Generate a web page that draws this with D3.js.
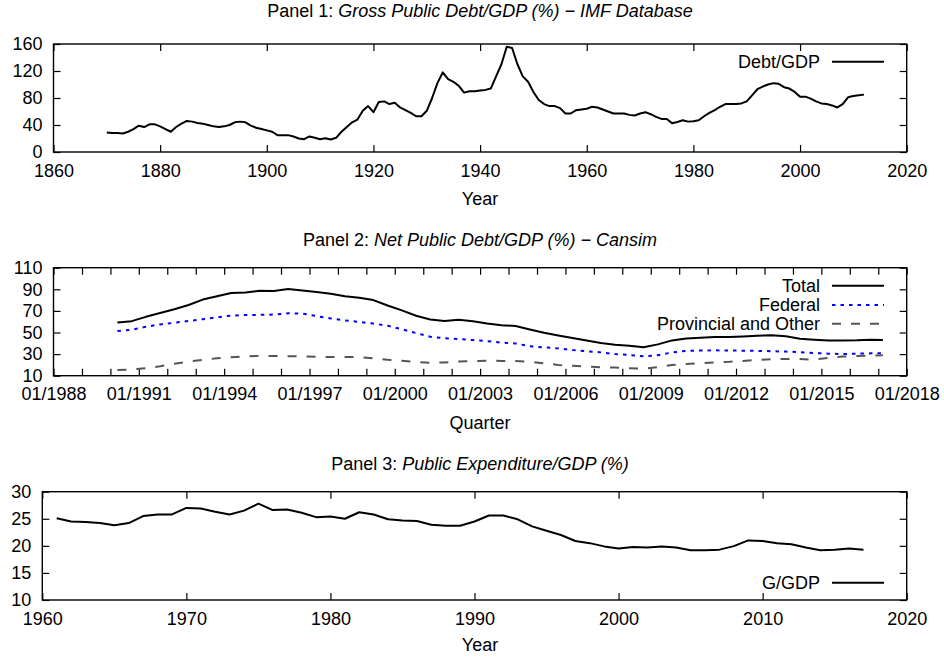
<!DOCTYPE html>
<html><head><meta charset="utf-8">
<script src="https://cdn.jsdelivr.net/npm/d3@7"></script>
<style>
html,body{margin:0;padding:0;background:#fff;}
svg{display:block;font-family:"Liberation Sans",Arial,sans-serif;}
</style></head>
<body>
<svg id="chart" width="944" height="658"></svg>
<script>
// ---------- Panel 1 data: Gross Public Debt/GDP (%) ----------
const debtYears = d3.range(1870, 2013);
const debtValues = [
 29,28,28,27.5,30,34,39,37,41,41,            // 1870-1879
 38,34,30,37,42,46,45,43,42,40,              // 1880-1889
 38,37,38,40,44,45,44,39,36,34,              // 1890-1899
 32,30,25,25,25,23,20,19,23,21,              // 1900-1909
 19,20.5,18.6,21,30,37,44,48,61,68,          // 1910-1919
 59,74,75,71,73,66,62,58,53,53,              // 1920-1929
 61,80,102,118,108,104,98,88,90,90,          // 1930-1939
 91,92,94,112,130,156,154,130,112,104,       // 1940-1949
 89,77,71,68,68,65,57,57,62,63,              // 1950-1959
 64,67,66,63,60,57,57,57,55,54,              // 1960-1969
 57,59,56,52,49,49,42.5,44.5,47,45,          // 1970-1979
 45.5,47,53,58,62,67,71,71,71,72,            // 1980-1989
 75,84,93,97,100,102,101,96,94,89,           // 1990-1999
 82,82,79,75,72,71,69,66,71,81,              // 2000-2009
 83,84,85                                     // 2010-2012
];
const p1XTicks = [1860,1880,1900,1920,1940,1960,1980,2000,2020];
const p1YTicks = [0,40,80,120,160];

// ---------- Panel 2 data: Net Public Debt/GDP (%) ----------
const quarters = [
 "1990-04","1990-10","1991-04","1991-10","1992-04","1992-10","1993-04","1993-10",
 "1994-04","1994-10","1995-04","1995-10","1996-04","1996-10","1997-04","1997-10",
 "1998-04","1998-10","1999-04","1999-10","2000-04","2000-10","2001-04","2001-10",
 "2002-04","2002-10","2003-04","2003-10","2004-04","2004-10","2005-04","2005-10",
 "2006-04","2006-10","2007-04","2007-10","2008-04","2008-10","2009-04","2009-10",
 "2010-04","2010-10","2011-04","2011-10","2012-04","2012-10","2013-04","2013-10",
 "2014-04","2014-10","2015-04","2015-10","2016-04","2016-10","2017-03"
];
const totalValues = [
 59.2,60.5,64.5,68,71.5,75.5,80.5,83.5,
 86.5,87,88.7,88.5,90.3,89,87.5,85.8,
 83.5,82.2,80,75,70.5,65.5,62,60.6,
 61.8,60.5,58.3,56.7,56,52.8,49.8,47.3,
 45,42.6,40.3,38.6,37.7,36.3,39,42.7,
 44.4,45.2,45.8,45.8,46.4,47,47.4,46.5,
 44.2,43.4,42.5,42.6,42.8,43.3,43
];
const federalValues = [
 51.3,52.5,55.3,57.5,59,60.7,62.3,64,
 65.7,66.2,66.3,66.6,67.8,67.6,65.2,63,
 61.2,59.8,58.3,56.3,53,49.5,46,44.7,
 44,43,42,40.6,39.8,37.3,36.2,35.3,
 33.7,32.7,31.6,30,29.2,28,29,31.5,
 33,33.3,33.5,33.3,33.2,33,32.7,32.3,
 31.8,31,30.4,30.1,30.4,30.7,30.7
];
const provincialValues = [
 15.3,15.7,17,18.7,21,23,24.7,26.1,
 27.1,27.8,28.4,28.3,28.1,27.8,27.5,27.3,
 27.3,27.3,26.2,24.8,23.8,22.7,22,22.3,
 23.1,23.6,23.9,23.7,23.6,22.8,21.5,20,
 19.2,18.4,17.9,17.5,17,16.5,17.8,20,
 20.9,21.5,22.2,22.8,23.7,24.6,25.3,25.4,
 25.4,24.9,26.5,27.7,28.3,28.4,29
];
const p2YTicks = [10,30,50,70,90,110];
const p2Series = ["Total","Federal","Provincial and Other"];

// ---------- Panel 3 data: Public Expenditure/GDP (%) ----------
const expYears = d3.range(1961, 2018);
const expValues = [
 25.1,24.5,24.4,24.2,23.8,24.2,25.5,25.8,25.8,         // 1961-1969
 27,26.9,26.3,25.8,26.5,27.8,26.6,26.7,26.1,25.3,      // 1970-1979
 25.4,25,26.2,25.8,24.9,24.7,24.6,23.9,23.7,23.7,      // 1980-1989
 24.5,25.6,25.6,24.9,23.6,22.8,22,20.9,20.5,19.9,      // 1990-1999
 19.5,19.8,19.7,19.9,19.7,19.2,19.2,19.3,19.95,21,     // 2000-2009
 20.9,20.5,20.3,19.7,19.2,19.3,19.5,19.3               // 2010-2017
];
const p3XTicks = [1960,1970,1980,1990,2000,2010,2020];
const p3YTicks = [10,15,20,25,30];

// ---------- drawing ----------
const svg = d3.select("#chart");
const FONT = 18, TICK = 7;

function frame(g, x0, x1, y0, y1) {
  g.append("rect").attr("x", x0).attr("y", y0).attr("width", x1 - x0).attr("height", y1 - y0)
    .attr("fill", "none").attr("stroke", "#000").attr("stroke-width", 1.4);
}
function title(label, italic, cx, y) {
  const t = svg.append("text").attr("x", cx).attr("y", y).attr("text-anchor", "middle")
    .attr("font-size", 18).attr("fill", "#000");
  t.append("tspan").text(label);
  t.append("tspan").attr("font-style", "italic").text(italic);
}
function axes(x, y, xTicks, yTicks, xFmt, yFmt) {
  const [x0, x1] = x.range(), [y1, y0] = y.range();
  const g = svg.append("g");
  const bx = d3.axisBottom(x).tickValues(xTicks).tickSizeInner(-TICK).tickSizeOuter(0)
    .tickPadding(12).tickFormat(xFmt);
  const gb = g.append("g").attr("transform", `translate(0,${y1})`).call(bx);
  const tx = d3.axisTop(x).tickValues(xTicks).tickSizeInner(-TICK).tickSizeOuter(0).tickFormat("");
  const gt = g.append("g").attr("transform", `translate(0,${y0})`).call(tx);
  const ly = d3.axisLeft(y).tickValues(yTicks).tickSizeInner(-TICK).tickSizeOuter(0)
    .tickPadding(11).tickFormat(yFmt);
  const gl = g.append("g").attr("transform", `translate(${x0},0)`).call(ly);
  const ry = d3.axisRight(y).tickValues(yTicks).tickSizeInner(-TICK).tickSizeOuter(0).tickFormat("");
  const gr = g.append("g").attr("transform", `translate(${x1},0)`).call(ry);
  [gb, gt, gl, gr].forEach(a => {
    a.select(".domain").remove();
    a.selectAll("line").attr("stroke", "#000").attr("stroke-width", 1.2);
    a.selectAll("text").attr("font-size", FONT).attr("font-family", "Liberation Sans, Arial, sans-serif").attr("fill", "#000");
  });
  frame(g, x0, x1, y0, y1);
}
function legendEntry(text, y, style) {
  svg.append("text").attr("x", 820).attr("y", y).attr("text-anchor", "end")
    .attr("dominant-baseline", "central").attr("font-size", FONT).attr("fill", "#000").text(text);
  const l = svg.append("line").attr("x1", 832).attr("x2", 884).attr("y1", y).attr("y2", y)
    .attr("stroke", style.color).attr("stroke-width", 2);
  if (style.dash) l.attr("stroke-dasharray", style.dash);
}

// ----- Panel 1 -----
{
  const x = d3.scaleLinear().domain([1860, 2020]).range([53.5, 906.7]);
  const y = d3.scaleLinear().domain([0, 160]).range([152, 44]);
  title("Panel 1: ", "Gross Public Debt/GDP (%) \u2212 IMF Database", 480, 17);
  axes(x, y, p1XTicks, p1YTicks, d3.format("d"), d3.format("d"));
  svg.append("path").datum(debtYears.map((yr, i) => [yr, debtValues[i]]))
    .attr("fill", "none").attr("stroke", "#000").attr("stroke-width", 2).attr("stroke-linejoin", "round")
    .attr("d", d3.line().x(d => x(d[0])).y(d => y(d[1])));
  legendEntry("Debt/GDP", 61.7, {color: "#000"});
  svg.append("text").attr("x", 480).attr("y", 205).attr("text-anchor", "middle").attr("font-size", FONT).text("Year");
}

// ----- Panel 2 -----
{
  const parse = d3.timeParse("%Y-%m");
  const dates = quarters.map(parse);
  const x = d3.scaleTime().domain([new Date(1988, 0, 1), new Date(2018, 0, 1)]).range([53.5, 906.7]);
  const y = d3.scaleLinear().domain([10, 110]).range([375.7, 267.7]);
  title("Panel 2: ", "Net Public Debt/GDP (%) \u2212 Cansim", 480, 245.5);
  const yearTicks = d3.timeYear.range(new Date(1988, 0, 1), new Date(2018, 0, 2));
  const fmt = d3.timeFormat("%m/%Y");
  axes(x, y, yearTicks, p2YTicks, d => ((d.getFullYear() - 1988) % 3 === 0 ? fmt(d) : ""), d3.format("d"));
  const styles = [
    {values: totalValues, color: "#000", dash: null},
    {values: federalValues, color: "#0000ff", dash: "3.5,5"},
    {values: provincialValues, color: "#555555", dash: "9,10"}
  ];
  styles.forEach(s => {
    const p = svg.append("path").datum(dates.map((d, i) => [d, s.values[i]]))
      .attr("fill", "none").attr("stroke", s.color).attr("stroke-width", 2).attr("stroke-linejoin", "round")
      .attr("d", d3.line().x(d => x(d[0])).y(d => y(d[1])));
    if (s.dash) p.attr("stroke-dasharray", s.dash);
  });
  legendEntry(p2Series[0], 285.7, styles[0]);
  legendEntry(p2Series[1], 305, styles[1]);
  legendEntry(p2Series[2], 323.7, styles[2]);
  svg.append("text").attr("x", 480).attr("y", 429).attr("text-anchor", "middle").attr("font-size", FONT).text("Quarter");
}

// ----- Panel 3 -----
{
  const x = d3.scaleLinear().domain([1960, 2020]).range([42.3, 906.7]);
  const y = d3.scaleLinear().domain([10, 30]).range([600, 491.7]);
  title("Panel 3: ", "Public Expenditure/GDP (%)", 480, 470);
  axes(x, y, p3XTicks, p3YTicks, d3.format("d"), d3.format("d"));
  svg.append("path").datum(expYears.map((yr, i) => [yr, expValues[i]]))
    .attr("fill", "none").attr("stroke", "#000").attr("stroke-width", 2).attr("stroke-linejoin", "round")
    .attr("d", d3.line().x(d => x(d[0])).y(d => y(d[1])));
  legendEntry("G/GDP", 582.7, {color: "#000"});
  svg.append("text").attr("x", 480).attr("y", 651).attr("text-anchor", "middle").attr("font-size", FONT).text("Year");
}
</script>
</body></html>
